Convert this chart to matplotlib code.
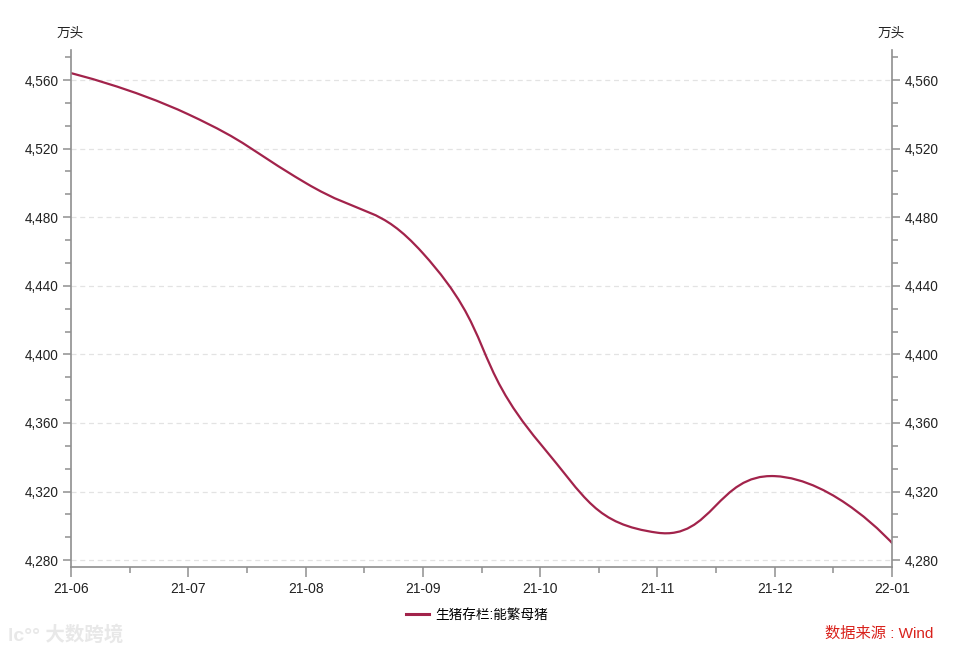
import numpy as np
import matplotlib
matplotlib.use('Agg')
import matplotlib.pyplot as plt
from matplotlib.path import Path
from matplotlib.patches import PathPatch
from matplotlib.lines import Line2D
from matplotlib.ticker import FuncFormatter, MultipleLocator

plt.rcParams['font.family'] = ['Liberation Sans', 'Noto Sans CJK SC', 'DejaVu Sans']

# 数据
months = ['21-06', '21-07', '21-08', '21-09', '21-10', '21-11', '21-12', '22-01']
sow_stock = [4564, 4540, 4500, 4459, 4348, 4296, 4329, 4290]
series_name = '生猪存栏:能繁母猪'
unit = '万头'
source = '数据来源 : Wind'

line_color = '#a2234b'
axis_color = '#8f8f8f'

fig = plt.figure(figsize=(9.59, 6.54), dpi=100)
ax = fig.add_axes([71 / 959, 87 / 654, 821 / 959, 517 / 654])

xs = np.arange(len(months))
ax.set_xlim(0, len(months) - 1)
ax.set_ylim(4276, 4577.5)


def smooth_path(ax, x, y, smooth=0.5):
    # echarts 式平滑：在像素坐标里算贝塞尔控制点
    pts = ax.transData.transform(np.column_stack([x, y]))
    n = len(pts)
    cp_in = pts.copy()
    cp_out = pts.copy()
    for i in range(1, n - 1):
        prev, cur, nxt = pts[i - 1], pts[i], pts[i + 1]
        v = nxt - prev
        d0 = np.hypot(*(cur - prev))
        d1 = np.hypot(*(nxt - cur))
        r = d1 / (d0 + d1)
        cp_in[i] = cur - v * smooth * (1 - r)
        cp_out[i] = cur + v * smooth * r
    verts = [pts[0]]
    codes = [Path.MOVETO]
    for i in range(n - 1):
        verts += [cp_out[i], cp_in[i + 1], pts[i + 1]]
        codes += [Path.CURVE4] * 3
    verts = ax.transData.inverted().transform(np.array(verts))
    return Path(verts, codes)


path = smooth_path(ax, xs, sow_stock)
ax.add_patch(PathPatch(path, facecolor='none', edgecolor=line_color,
                       lw=1.6, transform=ax.transData, capstyle='round'))

# 坐标轴
ax.spines['top'].set_visible(False)
for s in ['left', 'right', 'bottom']:
    ax.spines[s].set_color(axis_color)
    ax.spines[s].set_linewidth(1.2)

ax.yaxis.set_major_locator(MultipleLocator(40))
ax.yaxis.set_minor_locator(MultipleLocator(40 / 3))
ax.yaxis.set_major_formatter(FuncFormatter(lambda v, p: f'{int(round(v)):,}'))
ax.set_xticks(xs)
ax.set_xticklabels(months)
ax.set_xticks(xs[:-1] + 0.5, minor=True)

ax.tick_params(axis='y', which='both', left=True, right=True,
               labelleft=True, labelright=True, direction='out',
               colors=axis_color, labelcolor='#222222', labelsize=9.8)
ax.tick_params(axis='y', which='major', length=6, width=1.1, pad=3)
ax.tick_params(axis='y', which='minor', length=4, width=1.1)
ax.tick_params(axis='x', which='both', direction='out', colors=axis_color,
               labelcolor='#222222', labelsize=10)
ax.tick_params(axis='x', which='major', length=7, width=1.1, pad=4)
ax.tick_params(axis='x', which='minor', length=4, width=1.1)

ax.grid(axis='y', which='major', color='#e3e3e3', linestyle=(0, (4, 3)), lw=0.9)
ax.set_axisbelow(True)

# 单位
fig.text(70 / 959, 1 - 33 / 654, unit, ha='center', va='center', fontsize=9.8, color='#222222')
fig.text(891 / 959, 1 - 33 / 654, unit, ha='center', va='center', fontsize=9.8, color='#222222')

# 图例
handle = Line2D([], [], color=line_color, lw=2.2)
fig.legend([handle], [series_name], loc='center', bbox_to_anchor=(477 / 959, 1 - 615 / 654),
           frameon=False, fontsize=9.8, handlelength=1.7, handletextpad=0.5)

# 来源
fig.text(933 / 959, 1 - 634 / 654, source, ha='right', va='center',
         fontsize=11, color='#d9221c')

# 水印
fig.text(8 / 959, 1 - 635 / 654, 'lc°° 大数跨境', ha='left', va='center',
         fontsize=14, color='#e8e8e8', fontweight='bold')

fig.savefig('out.png', dpi=100)
